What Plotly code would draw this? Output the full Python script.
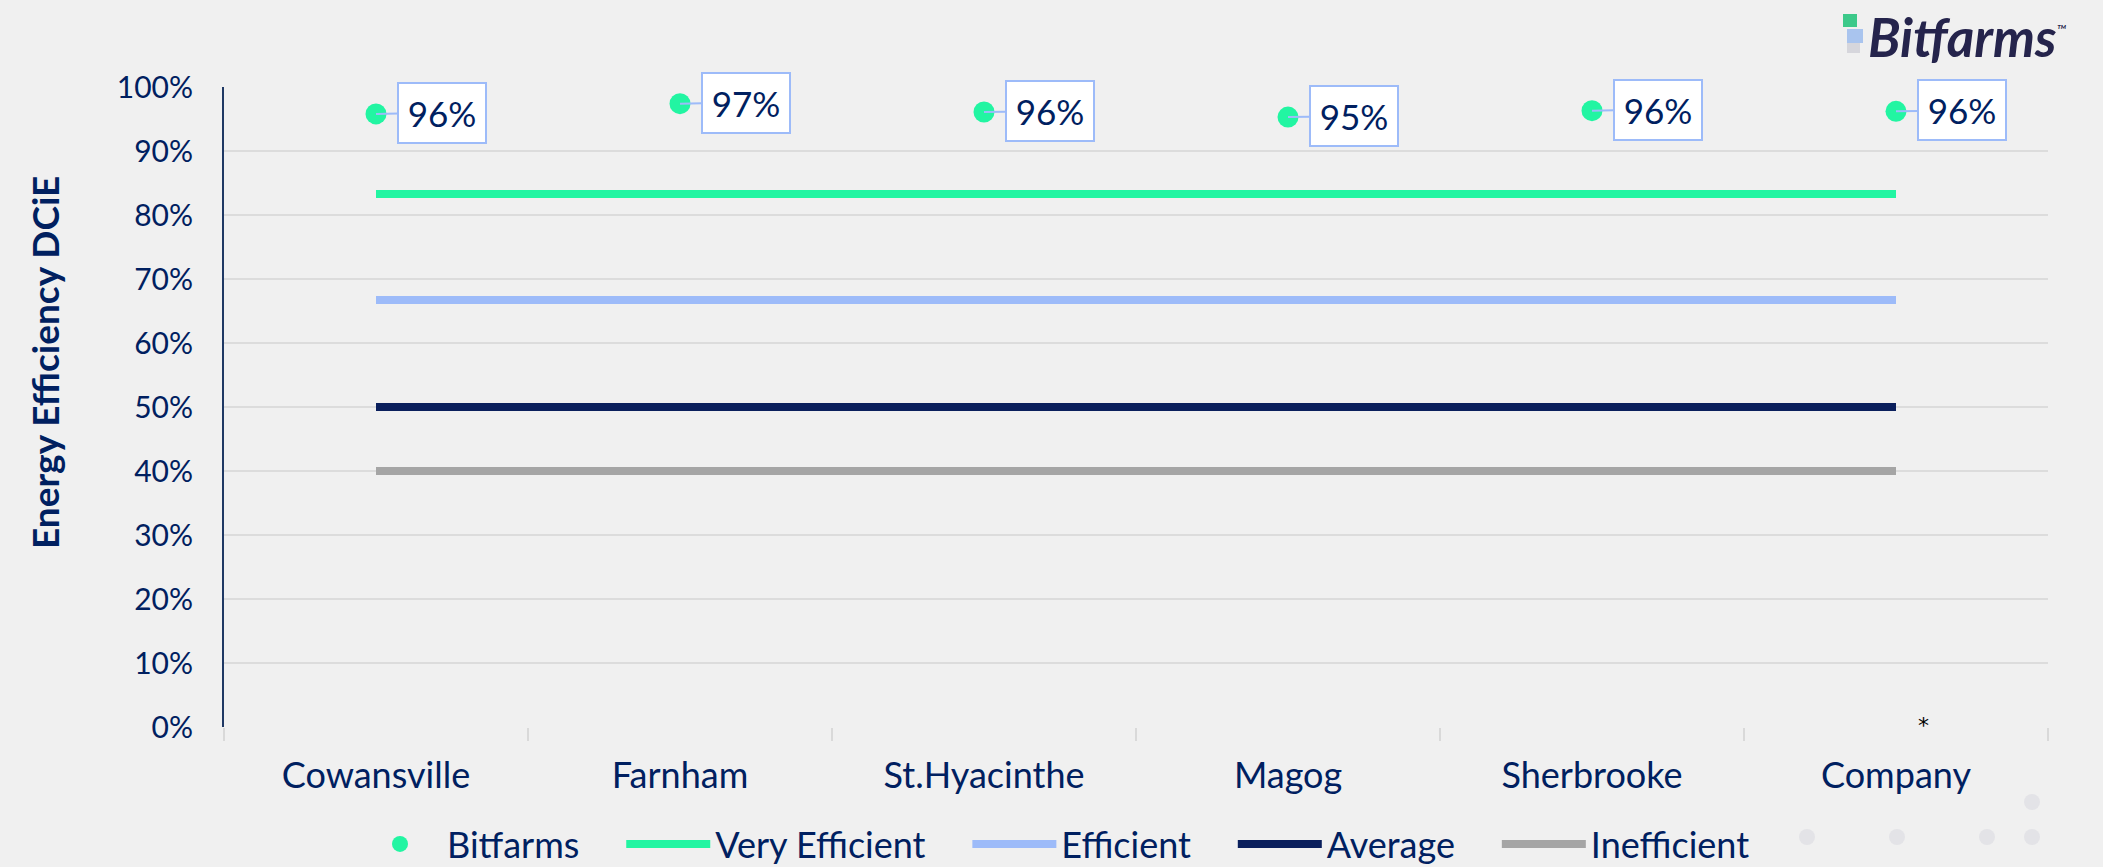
import plotly.graph_objects as go

# ---- data ----
sites = ["Cowansville", "Farnham", "St.Hyacinthe", "Magog", "Sherbrooke", "Company"]
bitfarms = [0.958, 0.974, 0.961, 0.953, 0.963, 0.962]
very_efficient = [0.833] * 6
efficient = [0.667] * 6
average = [0.50] * 6
inefficient = [0.40] * 6
y_ticks = [0, 0.1, 0.2, 0.3, 0.4, 0.5, 0.6, 0.7, 0.8, 0.9, 1.0]

NAVY = "#002060"
FONT = "Lato"
W, H = 2103, 867
ML, MR, MT, MB = 224, 55, 87, 140
PW, PH = W - ML - MR, H - MT - MB


def px(x):
    return (x - ML) / PW


def py(y):
    return (H - MB - y) / PH


GAP = "\u00a0" * 4

fig = go.Figure()

fig.add_trace(go.Scatter(
    x=sites, y=bitfarms, name="Bitfarms" + GAP, mode="markers",
    marker=dict(color="#22F5A2", size=21),
))
for name, vals, col in [
    ("Very Efficient", very_efficient, "#22F5A2"),
    ("Efficient", efficient, "#9DBBF9"),
    ("Average", average, "#0A1F5C"),
    ("Inefficient", inefficient, "#A5A5A5"),
]:
    fig.add_trace(go.Scatter(
        x=sites, y=vals, name=name + (GAP if name != "Inefficient" else ""),
        mode="lines", line=dict(color=col, width=8),
    ))

annotations = []
for s, v in zip(sites, bitfarms):
    annotations.append(dict(
        x=s, y=v, xref="x", yref="y", text=f"{v:.0%}",
        showarrow=True, arrowhead=0, arrowwidth=2, arrowcolor="#9DBBF9",
        ax=66, ay=-1, standoff=0,
        bgcolor="white", bordercolor="#9DBBF9", borderwidth=2, borderpad=0,
        width=86, height=58,
        font=dict(family=FONT, size=35, color=NAVY),
    ))

# y axis title
annotations.append(dict(
    x=px(44), y=py(363), xref="paper", yref="paper",
    text="<b>Energy Efficiency DCiE</b>", textangle=-90, showarrow=False,
    xanchor="center", yanchor="middle",
    font=dict(family=FONT, size=37, color=NAVY),
))
# asterisk
annotations.append(dict(
    x="Company", y=0, xref="x", yref="y", text="*", showarrow=False,
    xshift=27, yshift=2, xanchor="center", yanchor="middle",
    font=dict(family="DejaVu Sans", size=22, color="black"),
))
# logo text
annotations.append(dict(
    x=px(1866), y=py(36), xref="paper", yref="paper",
    text="Bitfarms<sup><span style='font-size:14px;font-weight:normal'>™</span></sup>",
    showarrow=False, xanchor="left", yanchor="middle",
    font=dict(family=FONT, size=53, color="#25244C", weight="bold", style="italic"),
))

shapes = [
    dict(type="rect", xref="paper", yref="paper",
         x0=px(1843), x1=px(1857), y0=py(27), y1=py(14),
         fillcolor="#3CC98A", line=dict(width=0)),
    dict(type="rect", xref="paper", yref="paper",
         x0=px(1847), x1=px(1863), y0=py(43), y1=py(29),
         fillcolor="#A9C4EE", line=dict(width=0)),
    dict(type="rect", xref="paper", yref="paper",
         x0=px(1847), x1=px(1860), y0=py(53), y1=py(43),
         fillcolor="#D6D6DC", line=dict(width=0)),
]
# faint decorative dots (slide background)
for cx, cy in [(1807, 837), (1897, 837), (1987, 837), (2032, 837), (2032, 802)]:
    shapes.append(dict(
        type="circle", xref="paper", yref="paper",
        xsizemode="pixel", ysizemode="pixel",
        xanchor=px(cx), yanchor=py(cy), x0=-8, x1=8, y0=-8, y1=8,
        fillcolor="#E3E3E7", line=dict(width=0), layer="below",
    ))

fig.update_layout(
    width=W, height=H,
    margin=dict(l=ML, r=MR, t=MT, b=MB, autoexpand=False),
    paper_bgcolor="#F0F0F0", plot_bgcolor="#F0F0F0",
    font=dict(family=FONT, color=NAVY),
    showlegend=True,
    legend=dict(
        orientation="h", x=px(353), xanchor="left", y=py(844), yanchor="middle",
        font=dict(family=FONT, size=36, color=NAVY),
        itemwidth=84, bgcolor="rgba(0,0,0,0)",
    ),
    annotations=annotations,
    shapes=shapes,
    xaxis=dict(
        type="category", categoryorder="array", categoryarray=sites,
        range=[-0.5, len(sites) - 0.5], automargin=False,
        showgrid=False, zeroline=False, showline=False,
        ticks="outside", tickson="boundaries", ticklen=13, tickwidth=2,
        tickcolor="#D9D9D9",
        tickfont=dict(family=FONT, size=36, color=NAVY),
        ticklabelstandoff=24,
    ),
    yaxis=dict(
        range=[0, 1], tickvals=y_ticks, tickformat=".0%", automargin=False,
        showgrid=True, gridcolor="#DCDCDC", gridwidth=2,
        zeroline=False, showline=True, linecolor="#1F3864", linewidth=2,
        ticks="", tickfont=dict(family=FONT, size=30, color=NAVY),
        ticklabelstandoff=23,
    ),
)

post = (
    "document.body.style.margin='0';document.body.style.padding='0';"
    "document.body.style.overflow='hidden';"
    "var gd=document.getElementById('{plot_id}');"
    "Plotly.relayout(gd,{width:2103,height:867});"
)
fig.write_html("out.html", post_script=post, config={"displayModeBar": False})
